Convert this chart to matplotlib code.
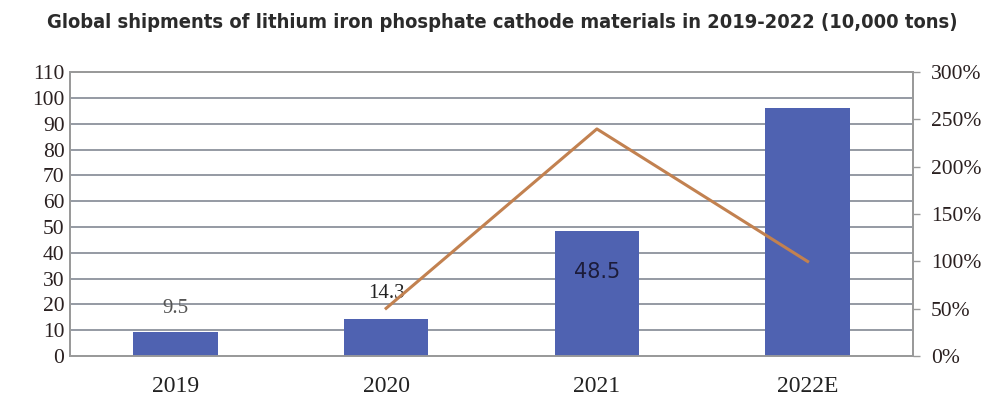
import matplotlib.pyplot as plt
from matplotlib.ticker import PercentFormatter

years = ["2019", "2020", "2021", "2022E"]
shipments = [9.5, 14.3, 48.5, 96.0]
bar_labels = ["9.5", "14.3", "48.5", ""]
growth_years = ["2020", "2021", "2022E"]
growth_pct = [50.5, 240.0, 100.0]

bar_color = "#4F62B1"
line_color = "#C28150"
grid_color = "#8C929C"

fig = plt.figure(figsize=(10, 4.17), dpi=100)
ax = fig.add_axes([0.07, 0.146, 0.843, 0.681])

x = range(len(years))
ax.bar(x, shipments, width=0.4, color=bar_color, zorder=3)
ax.set_xlim(-0.5, len(years) - 0.5)
ax.set_ylim(0, 110)
ax.set_yticks(range(0, 111, 10))
ax.yaxis.grid(True, color=grid_color, lw=1.3, zorder=0)
ax.set_xticks(list(x))
ax.set_xticklabels(years, family="Liberation Serif", fontsize=17, color="#222222")
ax.tick_params(axis="x", length=0, pad=14)
ax.tick_params(axis="y", length=0, pad=4, labelsize=15.5, labelcolor="#2a2020")
for lab in ax.get_yticklabels():
    lab.set_family("Liberation Serif")
for s in ax.spines.values():
    s.set_color("#9A9A9A")
    s.set_linewidth(1.3)

# value labels
ax.text(0, 18.6, bar_labels[0], ha="center", va="center", family="Liberation Serif",
        fontsize=15, color="#555555", zorder=4)
ax.text(1, 24.4, bar_labels[1], ha="center", va="center", family="Liberation Serif",
        fontsize=15, color="#222222", zorder=4)
ax.text(2, 32.5, bar_labels[2], ha="center", va="center", family="DejaVu Sans",
        fontsize=15, color="#1c1c3a", zorder=4)

ax2 = ax.twinx()
gx = [years.index(y) for y in growth_years]
ax2.plot(gx, growth_pct, color=line_color, lw=2.2, zorder=5)
ax2.set_ylim(0, 300)
ax2.set_yticks(range(0, 301, 50))
ax2.yaxis.set_major_formatter(PercentFormatter(decimals=0))
ax2.tick_params(axis="y", length=5, width=1, color="#9A9A9A", pad=8,
                labelsize=15.5, labelcolor="#2a2020")
for lab in ax2.get_yticklabels():
    lab.set_family("Liberation Serif")
for s in ax2.spines.values():
    s.set_color("#9A9A9A")
    s.set_linewidth(1.3)

fig.text(0.502, 0.947, "Global shipments of lithium iron phosphate cathode materials in 2019-2022 (10,000 tons)",
         ha="center", va="center", fontsize=14.4, fontweight="heavy", fontstretch="condensed",
         family="DejaVu Sans", color="#2b2b2b")

fig.savefig("out.png", dpi=100)
